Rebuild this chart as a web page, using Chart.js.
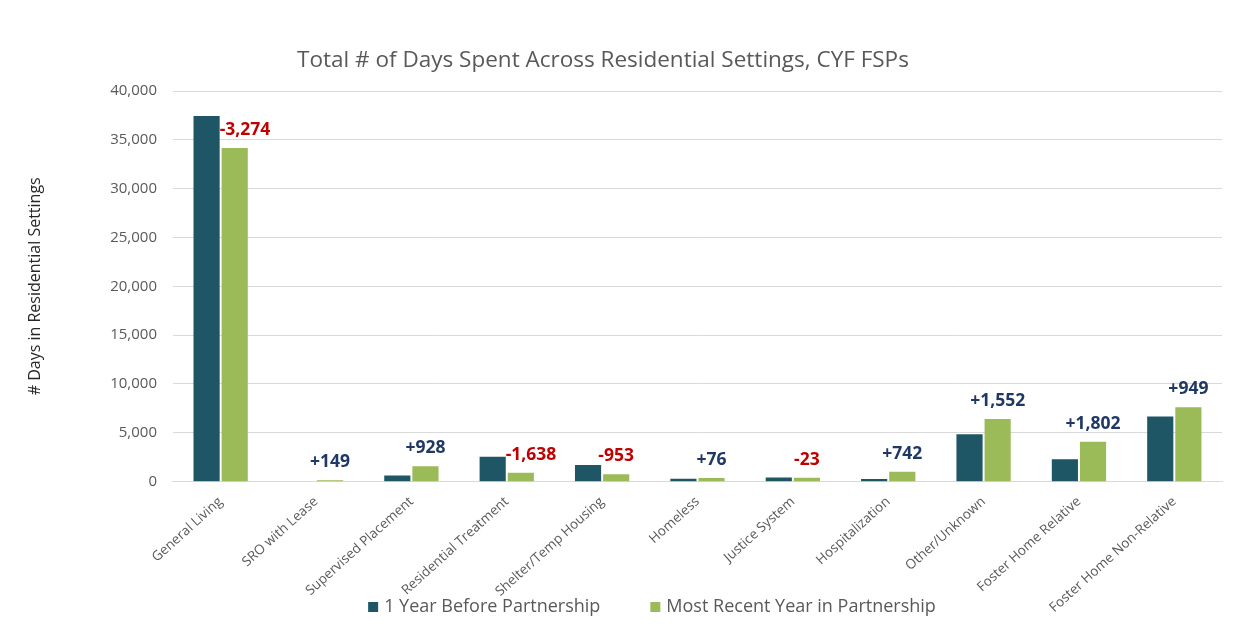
<!DOCTYPE html>
<html><head><meta charset="utf-8">
<script src="https://cdn.jsdelivr.net/npm/chart.js@4.4.1/dist/chart.umd.min.js"></script>
<style>html,body{margin:0;padding:0;background:#fff;}#wrap{width:1256px;height:624px;position:relative;}</style>
</head><body><div id="wrap"><canvas id="c" width="1256" height="624"></canvas></div>
<script>
const categories = ['General Living','SRO with Lease','Supervised Placement','Residential Treatment','Shelter/Temp Housing','Homeless','Justice System','Hospitalization','Other/Unknown','Foster Home Relative','Foster Home Non-Relative'];
const beforeValues = [37430, 0, 640, 2540, 1700, 300, 430, 260, 4850, 2290, 6680];
const recentValues = [34156, 149, 1568, 902, 747, 376, 407, 1002, 6402, 4092, 7629];
const changeValues = [-3274, 149, 928, -1638, -953, 76, -23, 742, 1552, 1802, 949];
const seriesNames = ['1 Year Before Partnership', 'Most Recent Year in Partnership'];
const yMax = 40000;
const yStep = 5000;
const chartTitle = 'Total # of Days Spent Across Residential Settings, CYF FSPs';
const yAxisTitle = '# Days in Residential Settings';

const colBefore = '#1F5666';
const colRecent = '#9BBB59';
const colNeg = '#C00000';
const colPos = '#1F3864';

const shiftPlugin = {
  id: 'shiftPlugin',
  afterLayout(chart) {
    const t = chart.titleBlock;
    if (t) { t.left -= 13; t.right -= 13; }
  }
};

const changeLabelPlugin = {
  id: 'changeLabels',
  afterDatasetsDraw(chart) {
    const ctx = chart.ctx;
    const m0 = chart.getDatasetMeta(0);
    const m1 = chart.getDatasetMeta(1);
    ctx.save();
    ctx.font = 'bold 17.5px "Open Sans"';
    ctx.textBaseline = 'middle';
    changeValues.forEach((v, i) => {
      const g = m1.data[i];
      const d = m0.data[i];
      const txt = (v > 0 ? '+' : '-') + Math.abs(v).toLocaleString('en-US');
      ctx.fillStyle = v < 0 ? colNeg : colPos;
      const y = g.y - 18;
      if (d.y < y + 8) {
        ctx.textAlign = 'left';
        ctx.fillText(txt, g.x - g.width / 2 - 2, y);
      } else {
        ctx.textAlign = 'center';
        ctx.fillText(txt, g.x, y);
      }
    });
    ctx.restore();
  }
};

const legendPlugin = {
  id: 'customLegend',
  afterDraw(chart) {
    const ctx = chart.ctx;
    ctx.save();
    ctx.font = '18px "Open Sans"';
    ctx.textBaseline = 'middle';
    const box = 10, gapText = 6, gapItem = 50;
    const cols = [colBefore, colRecent];
    const widths = seriesNames.map(s => ctx.measureText(s).width);
    const total = widths.reduce((a, w) => a + box + gapText + w, 0) + gapItem * (seriesNames.length - 1);
    let x = 652 - total / 2;
    const y = 607;
    seriesNames.forEach((s, i) => {
      ctx.fillStyle = cols[i];
      ctx.fillRect(x, y - box / 2, box, box);
      ctx.fillStyle = '#595959';
      ctx.fillText(s, x + box + gapText, y);
      x += box + gapText + widths[i] + gapItem;
    });
    ctx.restore();
  }
};

new Chart(document.getElementById('c'), {
  type: 'bar',
  data: {
    labels: categories,
    datasets: [
      { label: seriesNames[0], data: beforeValues, backgroundColor: colBefore, borderWidth: 0, categoryPercentage: 0.59, barPercentage: 0.93 },
      { label: seriesNames[1], data: recentValues, backgroundColor: colRecent, borderWidth: 0, categoryPercentage: 0.59, barPercentage: 0.93 }
    ]
  },
  options: {
    responsive: false,
    animation: false,
    devicePixelRatio: 1,
    layout: { padding: { left: 10, right: 34, top: 0, bottom: 4 } },
    plugins: {
      legend: { display: false },
      tooltip: { enabled: false },
      title: {
        display: true, text: chartTitle, color: '#595959',
        font: { family: '"Open Sans"', size: 22.5, weight: 'normal' },
        padding: { top: 47, bottom: 17 }
      }
    },
    scales: {
      x: {
        grid: { display: false },
        border: { display: true, color: '#D9D9D9' },
        ticks: { autoSkip: false, maxRotation: 42, minRotation: 42, color: '#595959', font: { family: '"Open Sans"', size: 13.5 }, padding: 4 },
      },
      y: {
        min: 0, max: yMax,
        grid: { color: '#D9D9D9', drawTicks: false },
        border: { display: false },
        ticks: { stepSize: yStep, color: '#595959', font: { family: '"Open Sans"', size: 15 }, padding: 16,
          callback: v => v.toLocaleString('en-US') },
        title: { display: true, text: yAxisTitle, color: '#262626', font: { family: '"Liberation Sans Narrow", "Open Sans"', size: 16 }, padding: { top: 16, bottom: 49 } }
      }
    }
  },
  plugins: [shiftPlugin, changeLabelPlugin, legendPlugin]
});
</script></body></html>
